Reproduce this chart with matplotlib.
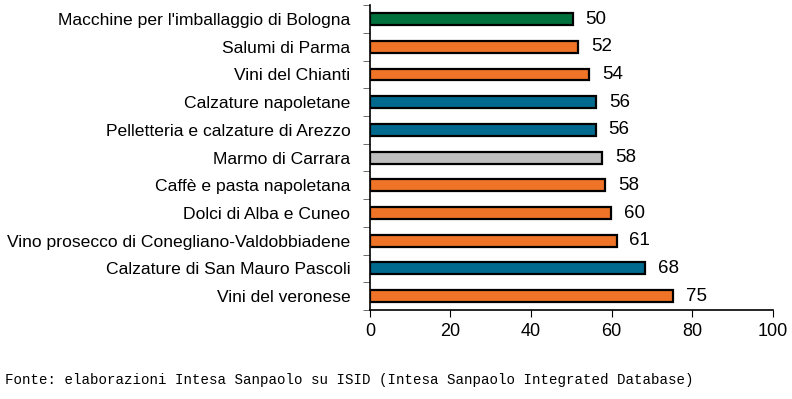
import matplotlib.pyplot as plt
import numpy as np

plt.rcParams['font.family'] = ['Liberation Sans', 'DejaVu Sans']

categories = ["Macchine per l'imballaggio di Bologna", "Salumi di Parma", "Vini del Chianti",
              "Calzature napoletane", "Pelletteria e calzature di Arezzo", "Marmo di Carrara",
              "Caffè e pasta napoletana", "Dolci di Alba e Cuneo",
              "Vino prosecco di Conegliano-Valdobbiadene", "Calzature di San Mauro Pascoli",
              "Vini del veronese"]
values = [50.3, 51.6, 54.4, 56.2, 56.0, 57.6, 58.4, 59.8, 61.2, 68.2, 75.1]
labels = [50, 52, 54, 56, 56, 58, 58, 60, 61, 68, 75]
sectors = ["mech", "food", "food", "fashion", "fashion", "other", "food", "food", "food", "fashion", "food"]
colors = {"mech": "#00703C", "food": "#F07427", "fashion": "#006A8E", "other": "#BFBFBF"}

fig = plt.figure(figsize=(7.92, 3.99), dpi=100)
ax = fig.add_axes([0.467, 0.223, 0.509, 0.764])

y = np.arange(len(categories))
ax.barh(y, values, height=0.43, color=[colors[s] for s in sectors],
        edgecolor="black", linewidth=1.6)
for yi, v, lab in zip(y, values, labels):
    ax.text(v + 3.2, yi, str(lab), va="center", ha="left", fontsize=13.5)

ax.set_ylim(len(categories) - 0.5, -0.5)
ax.set_xlim(0, 100)
ax.set_xticks(np.arange(0, 101, 20))
ax.set_yticks(y)
ax.set_yticklabels(categories, fontsize=12.6)
ax.set_yticks(np.arange(-0.5, len(categories), 1), minor=True)
ax.tick_params(axis='y', which='major', length=0, pad=14)
ax.tick_params(axis='y', which='minor', length=5, direction='out', color='#555555')
ax.tick_params(axis='x', length=5, direction='out', labelsize=13, pad=4)
for s in ["top", "right"]:
    ax.spines[s].set_visible(False)
ax.spines["left"].set_linewidth(1.2)
ax.spines["bottom"].set_linewidth(1.2)

fig.text(0.006, 0.03, "Fonte: elaborazioni Intesa Sanpaolo su ISID (Intesa Sanpaolo Integrated Database)",
         family=["Liberation Mono", "DejaVu Sans Mono"], fontsize=10.2, va="bottom")

fig.savefig("out.png", dpi=100)
